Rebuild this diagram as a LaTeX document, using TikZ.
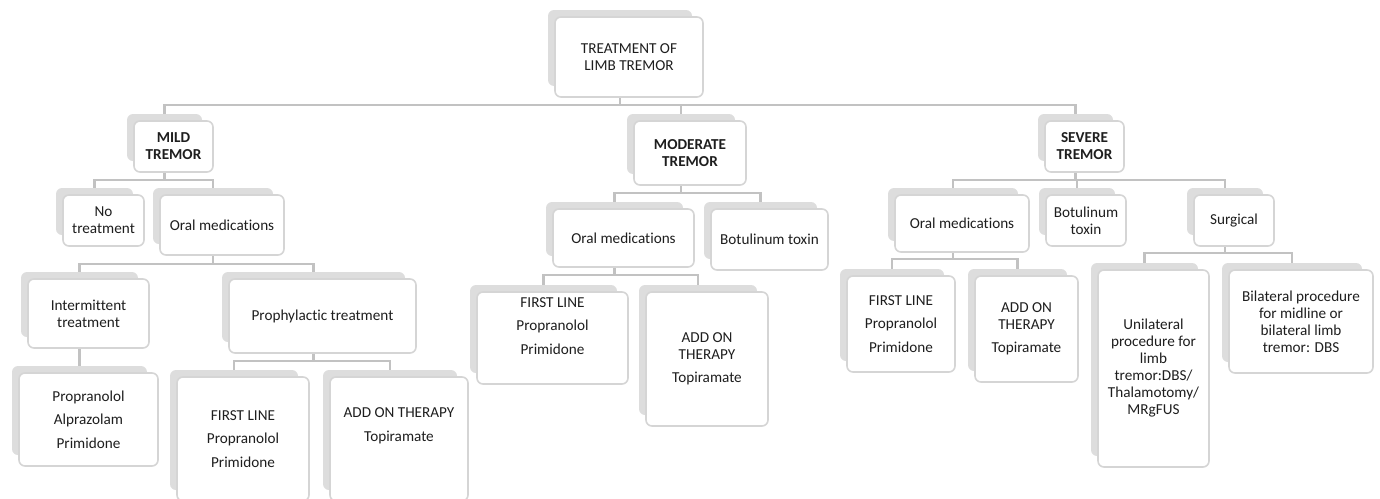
\documentclass[tikz,border=0pt]{standalone}
\usepackage{fontspec}
\setmainfont{Carlito}[Ligatures=NoCommon]
\usetikzlibrary{backgrounds}
\definecolor{backfill}{HTML}{DDDDDD}
\definecolor{frontline}{HTML}{D5D5D5}
\definecolor{connline}{HTML}{C2C2C2}
\definecolor{txtcol}{HTML}{1E1E1E}
\tikzset{
  backbox/.style={draw=none, fill=backfill, rounded corners=6pt, inner sep=0pt, outer sep=0pt},
  frontbox/.style={draw=frontline, line width=1.6pt, fill=white, rounded corners=6pt, inner sep=0pt, outer sep=0pt},
  boxtext/.style={align=center, inner sep=0pt, text=txtcol, font=\fontsize{15.2}{17}\selectfont},
  conn/.style={draw=connline, line width=2.4pt},
}
\newcommand{\stk}[7][]{%
  \pgfmathsetmacro{\stkx}{(#3+#5)/2}%
  \pgfmathsetmacro{\stky}{(#4+#6)/2}%
  \pgfmathsetmacro{\stkw}{#5-#3}%
  \pgfmathsetmacro{\stkh}{#6-#4}%
  \pgfmathsetmacro{\stkfw}{#5-#3+4}%
  \pgfmathsetmacro{\stkfh}{#6-#4+4}%
  \node[backbox, minimum width=\stkw pt, minimum height=\stkh pt] (#2) at (\stkx,\stky) {};
  \node[frontbox, minimum width=\stkfw pt, minimum height=\stkfh pt] (#2-f) at (\stkx+9,\stky+9) {};
  \node[boxtext,#1] (#2-t) at (#2-f.center) {#7};
}
\begin{document}
\begin{tikzpicture}[x=1pt,y=-1pt]
\useasboundingbox (0,0) rectangle (1380,498);

% level 0 and 1
\stk{root}{548}{10}{692}{86}{TREATMENT OF\\LIMB TREMOR}
\stk{mild}{127}{114}{202}{161}{\bfseries MILD\\\bfseries TREMOR}
\stk{moderate}{627}{114}{735}{174}{\bfseries MODERATE\\\bfseries TREMOR}
\stk{severe}{1038}{114}{1113}{161}{\bfseries SEVERE\\\bfseries TREMOR}

% mild branch
\stk{notreat}{56}{188}{133}{235}{No\\treatment}
\stk{moral}{153}{188}{273}{244}{Oral medications}
\stk{interm}{21}{272}{138}{337}{Intermittent\\treatment}
\stk{proph}{222}{272}{405}{342}{Prophylactic treatment}
\stk{mlist}{12}{366}{147}{455}{Propranolol\\[6.5pt]Alprazolam\\[6.5pt]Primidone}
\stk{mfirst}{170}{370}{298}{490}{FIRST LINE\\[6.5pt]Propranolol\\[6.5pt]Primidone}
\stk[yshift=13pt]{madd}{323}{370}{457}{490}{ADD ON THERAPY\\[6.5pt]Topiramate}

% moderate branch
\stk{modoral}{546}{202}{683}{256}{Oral medications}
\stk{modbot}{704}{202}{817}{259}{Botulinum toxin}
\stk[yshift=12pt]{modfirst}{470}{285}{617}{373}{FIRST LINE\\[6.5pt]Propranolol\\[6.5pt]Primidone}
\stk{modadd}{639}{285}{757}{415}{ADD ON\\THERAPY\\[6pt]Topiramate}

% severe branch
\stk{sevoral}{888}{188}{1018}{241}{Oral medications}
\stk{sevbot}{1039}{188}{1115}{235}{Botulinum\\toxin}
\stk{surg}{1187}{188}{1263}{235}{Surgical}
\stk{sevfirst}{840}{269}{944}{361}{FIRST LINE\\[6.5pt]Propranolol\\[6.5pt]Primidone}
\stk{sevadd}{968}{269}{1067}{371}{ADD ON\\THERAPY\\[6pt]Topiramate}
\stk{unilat}{1091}{263}{1198}{456}{Unilateral\\procedure for\\limb\\tremor:DBS/\\Thalamotomy/\\MRgFUS}
\stk{bilat}{1222}{263}{1362}{362}{Bilateral procedure\\for midline or\\bilateral limb\\tremor: DBS}

% bar levels
\coordinate (b0) at (0,105);
\coordinate (bmild) at (0,180);
\coordinate (bmoral) at (0,264);
\coordinate (bproph) at (0,361);
\coordinate (bmod) at (0,193);
\coordinate (bmodoral) at (0,275);
\coordinate (bsev) at (0,180);
\coordinate (bsevoral) at (0,259);
\coordinate (bsurg) at (0,253);

\begin{pgfonlayer}{background}
\foreach \c in {mild,moderate,severe}
  \draw[conn] (root.south) -- (root.south |- b0) -| (\c.north);
\foreach \c in {notreat,moral}
  \draw[conn] (mild.south) -- (mild.south |- bmild) -| (\c.north);
\foreach \c in {interm,proph}
  \draw[conn] (moral.south) -- (moral.south |- bmoral) -| (\c.north);
\draw[conn] (interm.south) -- (mlist.north);
\foreach \c in {mfirst,madd}
  \draw[conn] (proph.south) -- (proph.south |- bproph) -| (\c.north);
\foreach \c in {modoral,modbot}
  \draw[conn] (moderate.south) -- (moderate.south |- bmod) -| (\c.north);
\foreach \c in {modfirst,modadd}
  \draw[conn] (modoral.south) -- (modoral.south |- bmodoral) -| (\c.north);
\foreach \c in {sevoral,sevbot,surg}
  \draw[conn] (severe.south) -- (severe.south |- bsev) -| (\c.north);
\foreach \c in {sevfirst,sevadd}
  \draw[conn] (sevoral.south) -- (sevoral.south |- bsevoral) -| (\c.north);
\foreach \c in {unilat,bilat}
  \draw[conn] (surg.south) -- (surg.south |- bsurg) -| (\c.north);
\end{pgfonlayer}
\end{tikzpicture}
\end{document}
